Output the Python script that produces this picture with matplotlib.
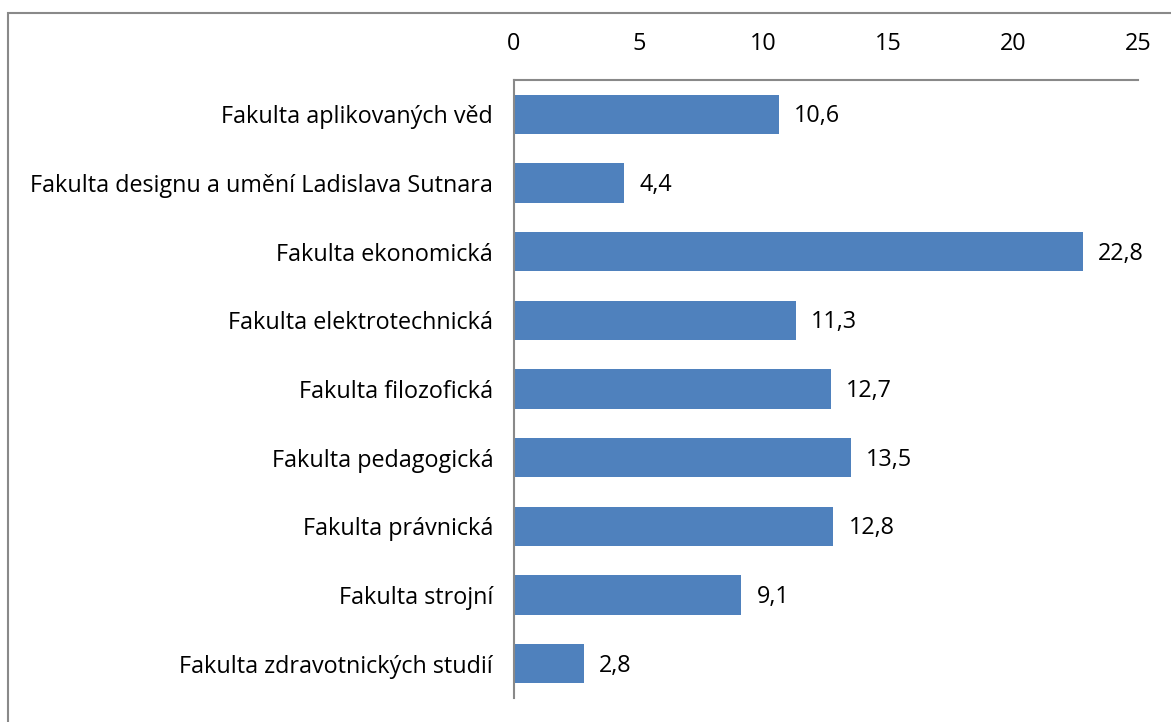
import matplotlib.pyplot as plt
from matplotlib.patches import Rectangle

faculties = ['Fakulta aplikovaných věd', 'Fakulta designu a umění Ladislava Sutnara',
             'Fakulta ekonomická', 'Fakulta elektrotechnická', 'Fakulta filozofická',
             'Fakulta pedagogická', 'Fakulta právnická', 'Fakulta strojní',
             'Fakulta zdravotnických studií']
values = [10.6, 4.4, 22.8, 11.3, 12.7, 13.5, 12.8, 9.1, 2.8]
xticks = [0, 5, 10, 15, 20, 25]

plt.rcParams['font.family'] = ['Open Sans', 'DejaVu Sans']
fs = 16.8

fig = plt.figure(figsize=(11.71, 7.22), dpi=100)
ax = fig.add_axes([514/1171, 1 - 698/722, (1138-514)/1171, (698-80)/722])

pos = range(len(faculties))
bars = ax.barh(pos, values, height=0.57, color='#4F81BD')
for b, v in zip(bars, values):
    ax.annotate(f'{v:.1f}'.replace('.', ','), (b.get_width(), b.get_y() + b.get_height()/2),
                xytext=(11, -1.5), textcoords='offset points', va='center', ha='left', fontsize=fs)

ax.set_ylim(len(faculties) - 0.5, -0.5)
ax.set_xlim(0, 25)
ax.set_xticks(xticks)
ax.set_yticks(list(pos))
ax.set_yticklabels(faculties)
ax.xaxis.tick_top()
ax.tick_params(axis='x', length=0, pad=17, labelsize=fs)
ax.tick_params(axis='y', length=0, pad=15, labelsize=fs)
for s in ['right', 'bottom']:
    ax.spines[s].set_visible(False)
for s in ['top', 'left']:
    ax.spines[s].set_color('#898989')
    ax.spines[s].set_linewidth(1.5)

fig.patches.append(Rectangle((8/1171, -0.1), 2, 1 - 13/722 + 0.1, transform=fig.transFigure,
                             fill=False, edgecolor='#898989', linewidth=1.5))

fig.savefig('out.png', dpi=100)
